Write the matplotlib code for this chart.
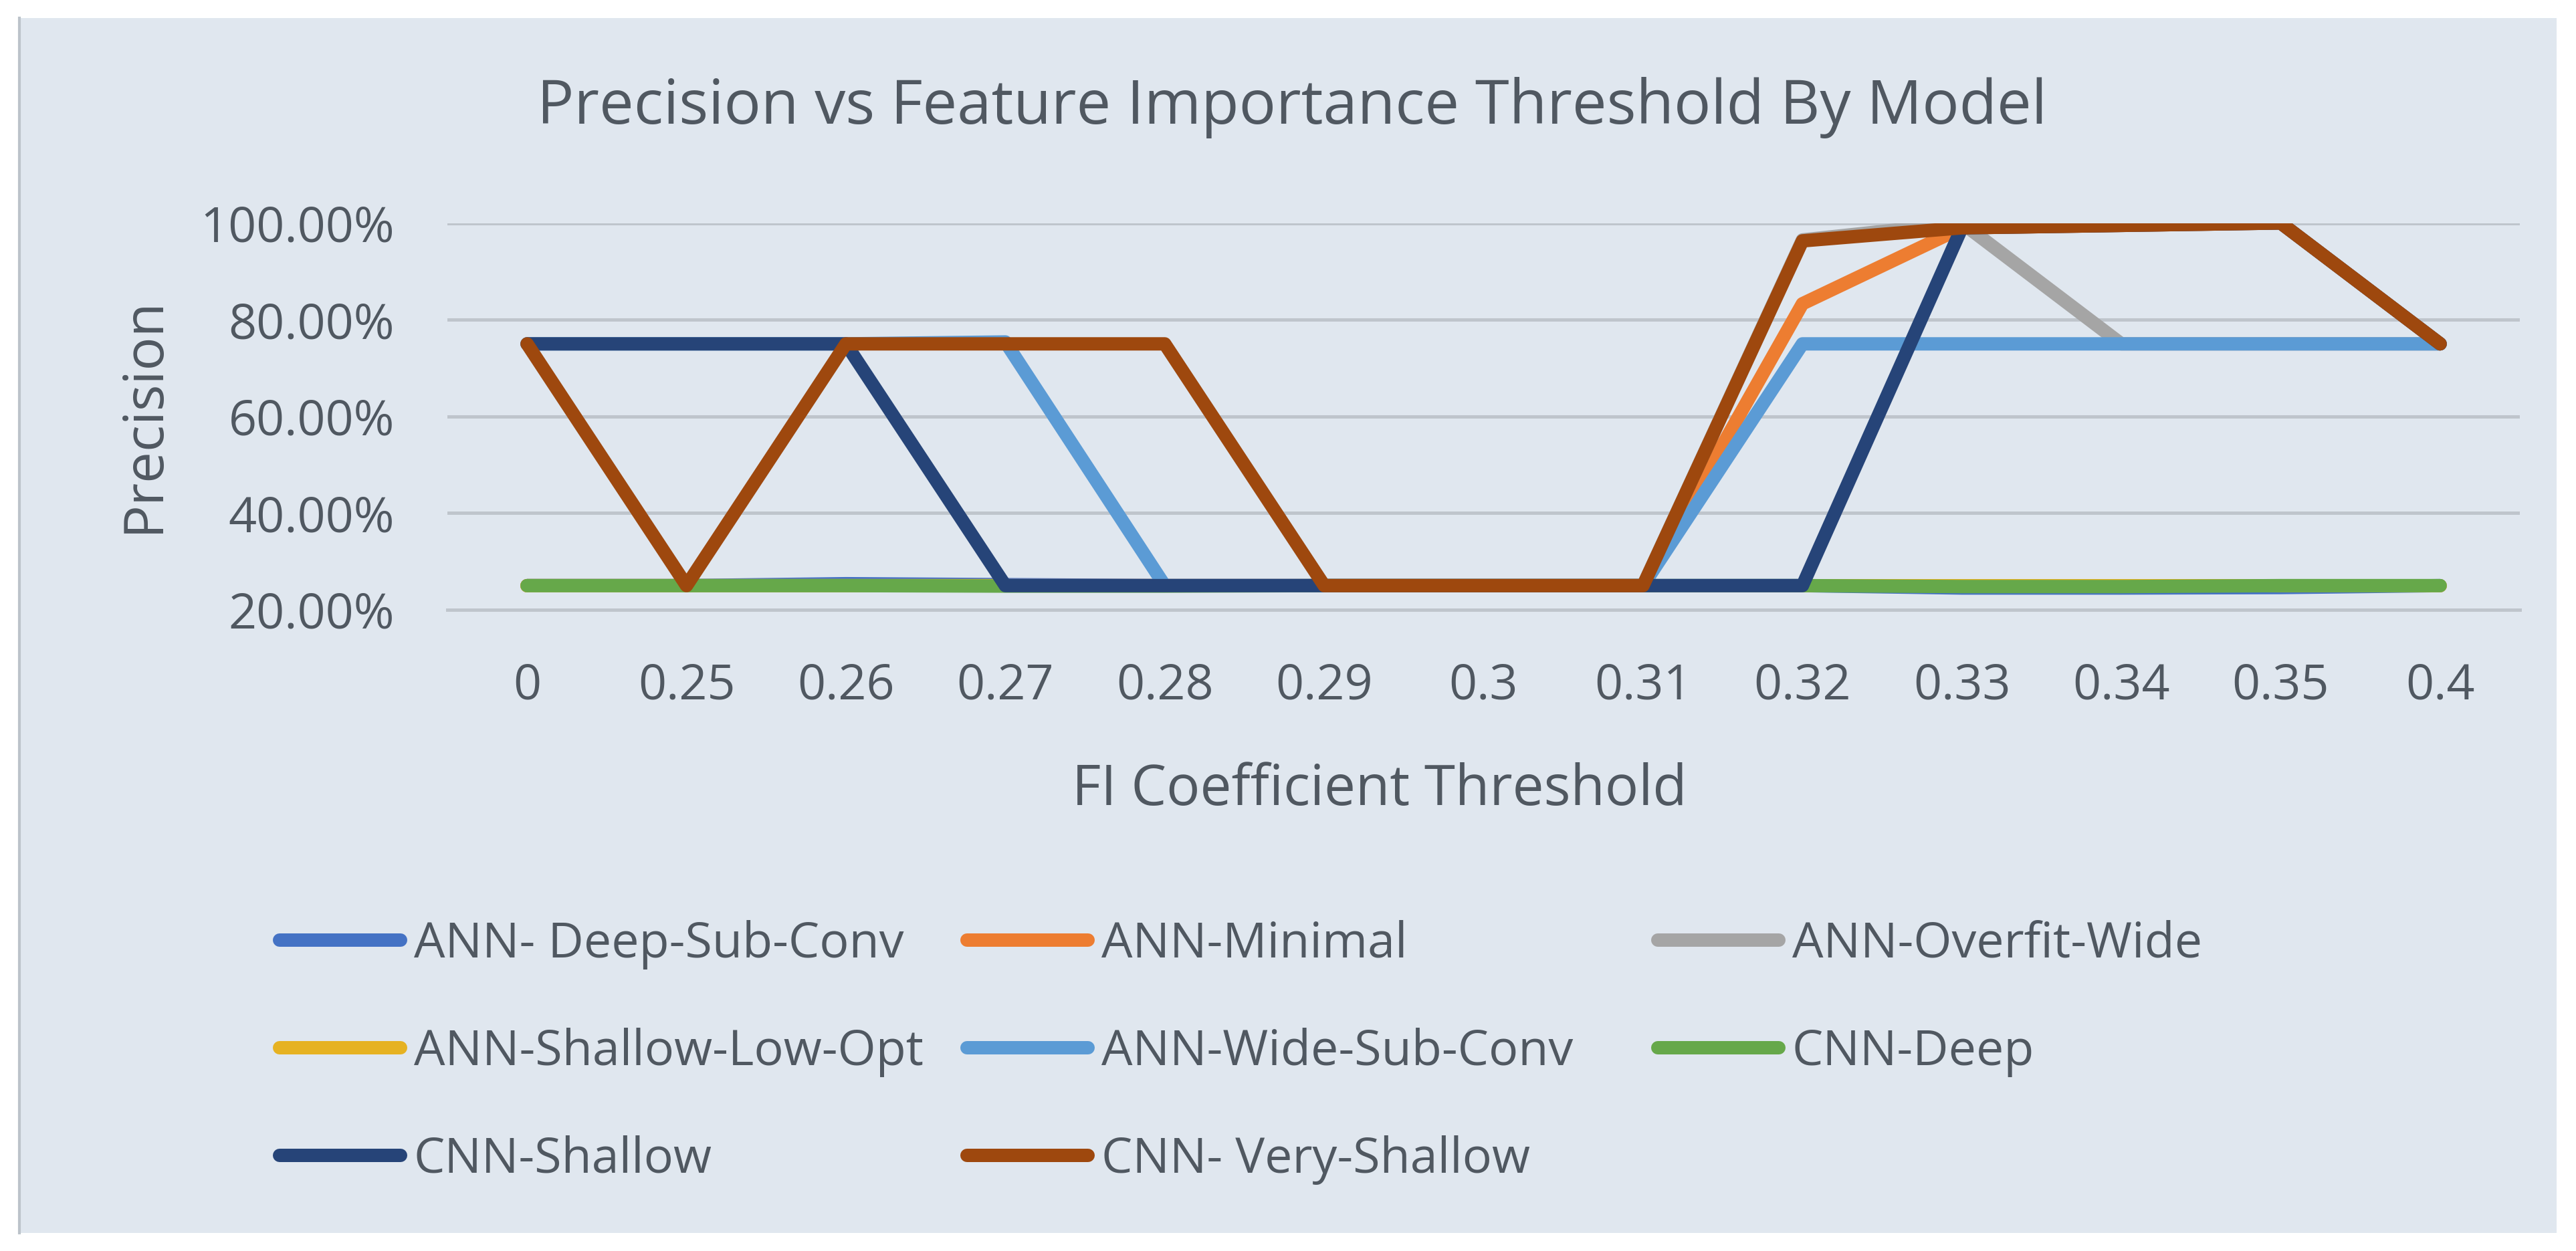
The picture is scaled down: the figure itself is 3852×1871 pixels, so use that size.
import matplotlib
matplotlib.use('Agg')
import matplotlib.pyplot as plt
from matplotlib.lines import Line2D
from matplotlib.patches import Rectangle

plt.rcParams['font.family'] = ['Open Sans', 'DejaVu Sans']

# data (precision in %)
thresholds = ['0', '0.25', '0.26', '0.27', '0.28', '0.29', '0.3', '0.31',
              '0.32', '0.33', '0.34', '0.35', '0.4']
ann_deep_sub_conv   = [25, 25, 25.4, 25.2, 25, 25, 25, 25, 25, 24.5, 24.5, 24.6, 25]
ann_minimal         = [25, 25, 25, 25, 25, 25, 25, 25, 83.3, 99, 99.5, 100, 75]
ann_overfit_wide    = [25, 25, 25, 25, 25, 25, 25, 25, 96.5, 100, 75, 75, 75]
ann_shallow_low_opt = [25, 25, 25, 25, 25, 25, 25, 25, 25, 25, 25, 25, 25]
ann_wide_sub_conv   = [75, 75, 75, 75.4, 25, 25, 25, 25, 75, 75, 75, 75, 75]
cnn_deep            = [25, 25, 25, 24.9, 24.9, 25, 25, 25, 25, 24.8, 24.8, 25, 25]
cnn_shallow         = [75, 75, 75, 25, 25, 25, 25, 25, 25, 99, 99.5, 100, 75]
cnn_very_shallow    = [75, 25, 75, 75, 75, 25, 25, 25, 96.3, 99, 99.5, 100, 75]

series = [
    ('ANN- Deep-Sub-Conv', ann_deep_sub_conv, '#4472C4'),
    ('ANN-Minimal', ann_minimal, '#ED7D31'),
    ('ANN-Overfit-Wide', ann_overfit_wide, '#A5A5A5'),
    ('ANN-Shallow-Low-Opt', ann_shallow_low_opt, '#E6B222'),
    ('ANN-Wide-Sub-Conv', ann_wide_sub_conv, '#5B9BD5'),
    ('CNN-Deep', cnn_deep, '#66A84A'),
    ('CNN-Shallow', cnn_shallow, '#264478'),
    ('CNN- Very-Shallow', cnn_very_shallow, '#9E480E'),
]

txt = '#505861'
W, H = 3852, 1871
fig = plt.figure(figsize=(W / 100, H / 100), dpi=100)
fig.patch.set_facecolor('white')

# chart area panel (behind the axes)
fig.patches.append(Rectangle((27 / W, 1 - 1844 / H), (3823 - 27) / W, (1844 - 27) / H,
                             transform=fig.transFigure, facecolor='#E0E7EF',
                             edgecolor='none', zorder=-5))
fig.lines.append(Line2D([29 / W, 29 / W], [1 - 1844 / H, 1 - 27 / H],
                        transform=fig.transFigure, color='#BCC3CA', lw=3, zorder=-4))

ax = fig.add_axes([669 / W, 1 - 912 / H, (3768 - 669) / W, (912 - 333.5) / H])
ax.patch.set_alpha(0)

xs = list(range(len(thresholds)))
handles = []
for name, vals, col in series:
    ln, = ax.plot(xs, vals, color=col, lw=14.4, label=name,
                  solid_capstyle='round', solid_joinstyle='round')
    handles.append(ln)

ax.set_xlim(-0.5, len(thresholds) - 0.5)
ax.set_ylim(20, 100)
ax.set_xticks(xs)
ax.set_xticklabels(thresholds)
ax.set_yticks([20, 40, 60, 80, 100])
ax.set_yticklabels(['%.2f%%' % v for v in [20, 40, 60, 80, 100]])
ax.tick_params(length=0, labelsize=53, labelcolor=txt)
ax.tick_params(axis='x', pad=56)
ax.tick_params(axis='y', pad=57)
for s in ax.spines.values():
    s.set_visible(False)
ax.grid(axis='y', color='#BFC5CC', lw=3.6, zorder=0)
ax.set_axisbelow(True)
ax.axhline(20, color='#BFC5CC', lw=3.6, zorder=0.5, clip_on=False)

fig.text(1932 / W, 1 - 185 / H, 'Precision vs Feature Importance Threshold By Model',
         fontsize=66.3, color=txt, ha='center', va='baseline')
fig.text(2063 / W, 1 - 1204 / H, 'FI Coefficient Threshold',
         fontsize=60.3, color=txt, ha='center', va='baseline')
fig.text(237 / W, 1 - 620 / H, 'Precision', fontsize=60, color=txt, rotation=90,
         rotation_mode='anchor', ha='center', va='baseline')

# legend: three columns, filled row by row
col_x = [418, 1446, 2479]
for j in range(3):
    hs = handles[j::3]
    leg = fig.legend(hs, [h.get_label() for h in hs], loc='upper left',
                     bbox_to_anchor=(col_x[j] / W, 1 - 1376 / H),
                     frameon=False, fontsize=53, labelcolor=txt,
                     borderpad=0, borderaxespad=0, handlelength=2.46,
                     handletextpad=0.27, labelspacing=1.18)

fig.savefig('out.png', dpi=100)
